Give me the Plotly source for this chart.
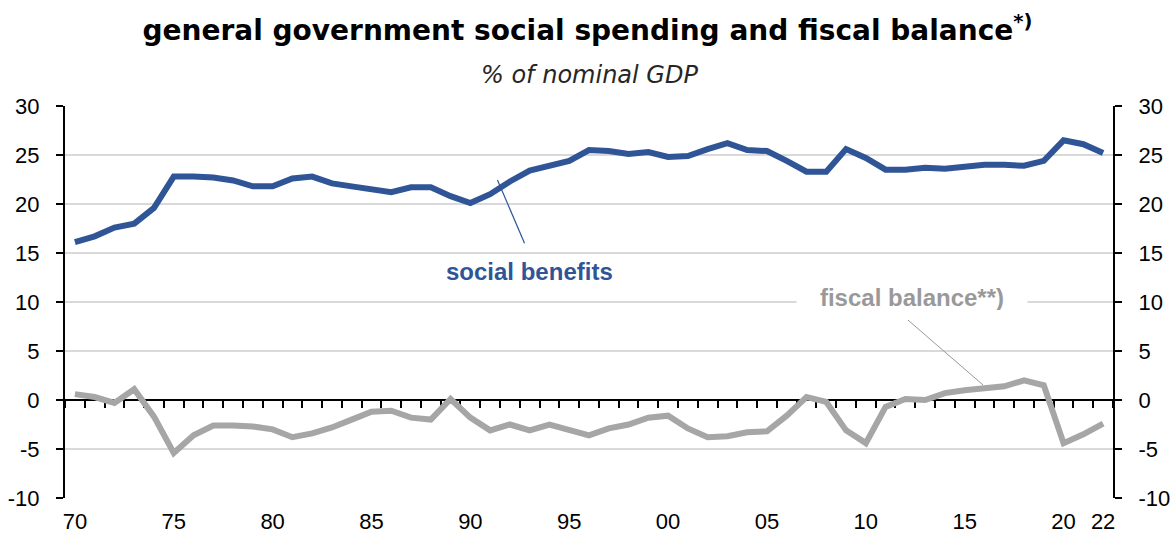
import plotly.graph_objects as go

years = list(range(1970, 2023))
social_benefits = [16.1, 16.7, 17.6, 18.0, 19.6, 22.8, 22.8, 22.7, 22.4, 21.8,
                   21.8, 22.6, 22.8, 22.1, 21.8, 21.5, 21.2, 21.7, 21.7, 20.8,
                   20.1, 21.0, 22.3, 23.4, 23.9, 24.4, 25.5, 25.4, 25.1, 25.3,
                   24.8, 24.9, 25.6, 26.2, 25.5, 25.4, 24.4, 23.3, 23.3, 25.6,
                   24.7, 23.5, 23.5, 23.7, 23.6, 23.8, 24.0, 24.0, 23.9, 24.4,
                   26.5, 26.1, 25.2]
fiscal_balance = [0.6, 0.3, -0.3, 1.1, -1.7, -5.4, -3.6, -2.6, -2.6, -2.7,
                  -3.0, -3.8, -3.4, -2.8, -2.0, -1.2, -1.1, -1.8, -2.0, 0.1,
                  -1.8, -3.1, -2.5, -3.1, -2.5, -3.1, -3.6, -2.9, -2.5, -1.8,
                  -1.6, -2.9, -3.8, -3.7, -3.3, -3.2, -1.6, 0.3, -0.2, -3.1,
                  -4.4, -0.7, 0.1, 0.0, 0.7, 1.0, 1.2, 1.4, 2.0, 1.5,
                  -4.4, -3.5, -2.4]
x_tick_years = [1970, 1975, 1980, 1985, 1990, 1995, 2000, 2005, 2010, 2015, 2020, 2022]
x_tick_labels = ["70", "75", "80", "85", "90", "95", "00", "05", "10", "15", "20", "22"]
y_ticks = [-10, -5, 0, 5, 10, 15, 20, 25, 30]
y_tick_labels = ["-10", "-5", "0", "5", "10", "15", "20", "25", "30"]

BLUE = "#2F5597"
GRAY = "#A6A6A6"
GRID = "#D9D9D9"
yr = [-10, 30]
xr = [years[0] - 0.5, years[-1] + 0.5]

fig = go.Figure()
fig.add_trace(go.Scatter(x=years, y=social_benefits, mode="lines",
                         line=dict(color=BLUE, width=6), name="social benefits"))
fig.add_trace(go.Scatter(x=years, y=fiscal_balance, mode="lines",
                         line=dict(color=GRAY, width=6), name="fiscal balance"))

tickfont = dict(family="Liberation Sans, Arial, sans-serif", size=22, color="black")

fig.update_layout(
    width=1175, height=538,
    margin=dict(l=65, r=62, t=106, b=40, autoexpand=False),
    paper_bgcolor="white", plot_bgcolor="white",
    showlegend=False,
    title=dict(text="<b>general government social spending and fiscal balance<sup>*)</sup></b>",
               x=0.5, xanchor="center", y=1 - 30 / 538, yanchor="middle",
               font=dict(family="DejaVu Sans, Verdana, sans-serif", size=28, color="black")),
    xaxis=dict(range=xr, tickvals=x_tick_years, ticktext=x_tick_labels,
               showgrid=False, showline=False, ticks="", zeroline=False,
               tickfont=tickfont, ticklabelstandoff=8, automargin=False),
    xaxis2=dict(range=xr, overlaying="x", anchor="free", position=0.25,
                tickvals=[y - 0.5 for y in years] + [years[-1] + 0.5],
                ticks="outside", ticklen=7, tickwidth=1.5, tickcolor="black",
                showticklabels=False, showgrid=False, zeroline=False,
                showline=True, linecolor="black", linewidth=2, side="bottom",
                layer="below traces"),
    yaxis=dict(range=yr, tickvals=y_ticks, ticktext=y_tick_labels,
               showgrid=True, gridcolor=GRID, gridwidth=2,
               zeroline=False, showline=True, linecolor="black", linewidth=2,
               ticks="outside", ticklen=7, tickwidth=1.5, tickcolor="black",
               tickfont=tickfont, ticklabelstandoff=12, automargin=False),
    yaxis2=dict(range=yr, tickvals=y_ticks, ticktext=y_tick_labels,
                overlaying="y", side="right", anchor="x",
                showgrid=False, zeroline=False, showline=True, linecolor="black",
                linewidth=2, ticks="outside", ticklen=7, tickwidth=1.5,
                tickcolor="black", tickfont=tickfont, ticklabelstandoff=12,
                automargin=False),
)

# dummy trace to activate xaxis2 and yaxis2
fig.add_trace(go.Scatter(x=[years[0]], y=[None], xaxis="x2", yaxis="y2",
                         showlegend=False, hoverinfo="skip"))

fig.add_annotation(xref="paper", yref="paper", x=0.5, y=1.0, yshift=31,
                   text="<i>% of nominal GDP</i>", showarrow=False,
                   xanchor="center", yanchor="middle",
                   font=dict(family="DejaVu Sans, Verdana, sans-serif", size=24, color="#262626"))

fig.add_annotation(x=1993.0, y=13.1, text="<b>social benefits</b>", showarrow=False,
                   font=dict(family="Liberation Sans, Arial, sans-serif", size=24, color=BLUE))
fig.add_shape(type="line", x0=1991.37, y0=22.45, x1=1992.74, y1=16.0,
              line=dict(color=BLUE, width=1.2))

fig.add_shape(type="line", x0=2012.13, y0=8.16, x1=2015.93, y1=1.53,
              line=dict(color="#999999", width=1))
fig.add_annotation(x=2012.34, y=10.5, text="<b>fiscal balance**)</b>", showarrow=False,
                   width=230, height=26, bgcolor="white", borderpad=0,
                   font=dict(family="Liberation Sans, Arial, sans-serif", size=24, color="#999999"))

fig.write_html("out.html", config={"displayModeBar": False},
               post_script="document.body.style.margin='0';")
